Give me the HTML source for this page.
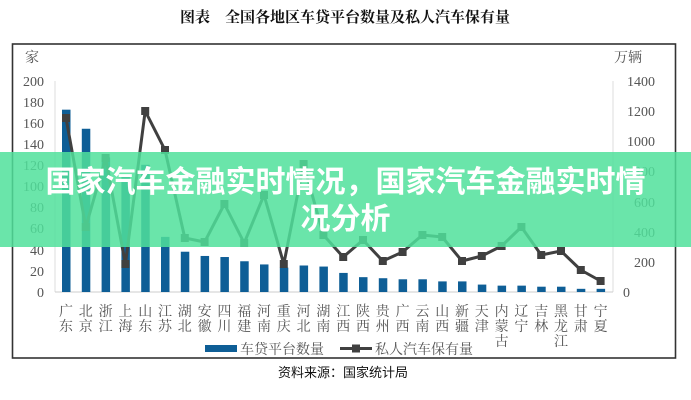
<!DOCTYPE html>
<html><head><meta charset="utf-8"><style>
body{margin:0;width:691px;height:400px;background:#fff;overflow:hidden;position:relative;font-family:"Liberation Serif","Noto Serif CJK SC",serif}
svg{position:absolute;left:0;top:0}
.band{position:absolute;left:0;top:152px;width:691px;height:95px;background:rgba(80,225,155,0.85);color:#fff;font-family:"Liberation Sans","Noto Sans CJK SC",sans-serif;font-weight:bold;font-size:30px;line-height:37px;text-align:center;padding-top:12px;box-sizing:border-box;white-space:nowrap}
</style></head><body>
<svg width="691" height="400" viewBox="0 0 691 400" xmlns="http://www.w3.org/2000/svg">
<text x="345" y="22" text-anchor="middle" font-family="Noto Serif CJK SC,serif" font-weight="bold" font-size="15" fill="#111">图表　全国各地区车贷平台数量及私人汽车保有量</text>
<rect x="12.5" y="44" width="663" height="314" fill="none" stroke="#333" stroke-width="1.6"/>
<g font-size="14" fill="#555" font-family="Liberation Serif,Noto Serif CJK SC,serif">
<text x="25" y="62">家</text>
<text x="614" y="62">万辆</text>
<g text-anchor="end">
<text x="44" y="86">200</text><text x="44" y="107">180</text><text x="44" y="128">160</text><text x="44" y="149">140</text><text x="44" y="170">120</text><text x="44" y="191">100</text><text x="44" y="212">80</text><text x="44" y="233">60</text><text x="44" y="255">40</text><text x="44" y="276">20</text><text x="44" y="297">0</text>
</g>
<g text-anchor="end">
<text x="655" y="86">1400</text><text x="655" y="116">1200</text><text x="655" y="146">1000</text><text x="655" y="176">800</text><text x="655" y="207">600</text><text x="655" y="237">400</text><text x="655" y="267">200</text><text x="630" y="297">0</text>
</g>
</g>
<line x1="55" y1="81" x2="55" y2="292" stroke="#ddd"/>
<line x1="613" y1="81" x2="613" y2="292" stroke="#ddd"/>
<line x1="55" y1="292" x2="613" y2="292" stroke="#ccc"/>
<g id="bars" fill="#0e5e96"></g>
<polyline id="ln" fill="none" stroke="#404040" stroke-width="3" stroke-linejoin="round"/>
<g id="mk" fill="#404040"></g>
<g id="lb" font-size="14" fill="#555" text-anchor="middle"></g>
<rect x="205" y="345" width="32" height="7" fill="#0e5e96"/>
<text x="240" y="354" font-size="14" fill="#555">车贷平台数量</text>
<line x1="340" y1="348.5" x2="372" y2="348.5" stroke="#404040" stroke-width="3"/>
<rect x="352" y="344.5" width="8" height="8" fill="#404040"/>
<text x="375" y="354" font-size="14" fill="#555">私人汽车保有量</text>
<text x="343" y="377" text-anchor="middle" font-family="Liberation Sans,Noto Sans CJK SC,sans-serif" font-size="13" fill="#111">资料来源：国家统计局</text>
</svg>
<div class="band">国家汽车金融实时情况，国家汽车金融实时情<br>况分析</div>
<script>
var names=["广东","北京","浙江","上海","山东","江苏","湖北","安徽","四川","福建","河南","重庆","河北","湖南","江西","陕西","贵州","广西","云南","山西","新疆","天津","内蒙古","辽宁","吉林","黑龙江","甘肃","宁夏"];
var v=[172,154,127,110,120,52,38,34,33,29,26,23,25,24,18,14,13,12,12,10,10,7,6,6,5,5,3,3];
var ly=[118,227,158,264,111,150,238,242,204,243,195,264,164,235,257,240,261,252,235,237,261,256,246,227,255,251,270,281];
var ns="http://www.w3.org/2000/svg",b=document.getElementById("bars"),m=document.getElementById("mk"),l=document.getElementById("lb"),pts=[];
names.forEach(function(n,i){var x=66+i*19.8;
var r=document.createElementNS(ns,"rect");var h=v[i]*1.06;r.setAttribute("x",x-4);r.setAttribute("y",292-h);r.setAttribute("width",8.5);r.setAttribute("height",h);b.appendChild(r);
pts.push(x+","+ly[i]);
var q=document.createElementNS(ns,"rect");q.setAttribute("x",x-4);q.setAttribute("y",ly[i]-4);q.setAttribute("width",8);q.setAttribute("height",8);m.appendChild(q);
for(var k=0;k<n.length;k++){var t=document.createElementNS(ns,"text");t.setAttribute("x",x);t.setAttribute("y",316+k*15);t.textContent=n[k];l.appendChild(t);}
});
document.getElementById("ln").setAttribute("points",pts.join(" "));
</script>
</body></html>
